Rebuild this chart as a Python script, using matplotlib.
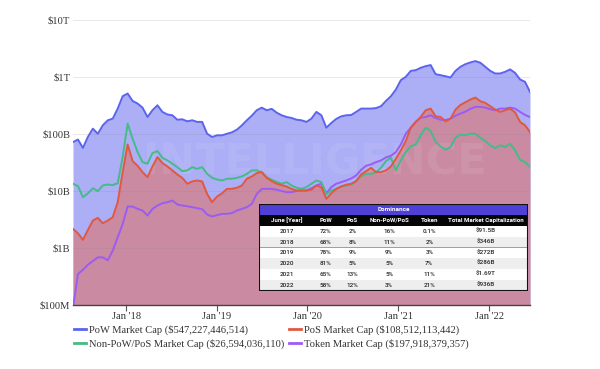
import matplotlib
matplotlib.use("Agg")
import matplotlib.pyplot as plt
from matplotlib.lines import Line2D
from matplotlib.patches import Rectangle
import pandas as pd
import numpy as np

# ---------------- data (values in billions of USD) ----------------
dates = pd.date_range("2017-06-01", periods=93, freq="20D")

pow_cap = [72, 80, 57, 89, 124, 101, 142, 174, 186, 279, 460, 513, 380, 342, 290, 199,
           261, 319, 244, 220, 213, 178, 181, 167, 174, 163, 163, 101, 88.6, 94.8, 94.8, 101,
           107, 119, 142, 174, 210, 261, 290, 261, 276, 237, 213, 199, 191, 178, 174, 163,
           186, 244, 213, 129, 156, 184, 204, 213, 215, 244, 279, 279, 279, 285, 307, 380,
           460, 603, 880, 1007, 1280, 1318, 1450, 1550, 1620, 1120, 1077, 1030, 980, 1280,
           1510, 1680, 1800, 1900, 1780, 1510, 1280, 1153, 1153, 1233, 1360, 1180, 905, 823,
           547.2]

pos_cap = [2.16, 1.81, 1.39, 2.07, 3.03, 3.37, 2.72, 3.03, 3.47, 6.36, 21.4, 65.5, 33.5,
           27.7, 21.4, 17.5, 27.0, 39.3, 31.0, 27.0, 23.0, 19.5, 17.0, 13.4, 14.7, 15.3, 14.7,
           8.91, 6.36, 8.0, 9.1, 10.9, 10.9, 11.4, 12.5, 16.4, 18.0, 20.6, 21.4, 17.0, 14.9,
           13.4, 12.7, 12.0, 10.9, 10.2, 10.2, 10.2, 10.5, 12.5, 11.7, 7.28, 9.1, 10.9, 12.0,
           12.9, 13.4, 14.9, 19.5, 22.3, 25.5, 21.4, 21.4, 23.0, 27.0, 36.8, 51.6, 75.3, 129,
           163, 199, 261, 279, 204, 199, 166, 186, 268, 323, 361, 402, 436, 376, 352, 307, 268,
           244, 261, 279, 240, 163, 142, 108.5]

other_cap = [13.4, 12.2, 7.78, 9.1, 11.2, 9.95, 12.5, 13.0, 12.7, 13.7, 39.3, 152, 82.8,
             48.2, 32.1, 30.1, 46.2, 50.2, 38.3, 34.4, 30.1, 26.2, 22.3, 23.0, 26.2, 24.5, 26.2,
             20.0, 17.0, 15.9, 15.3, 16.4, 16.4, 17.0, 18.0, 20.0, 23.0, 23.0, 21.4, 17.5, 15.7,
             14.5, 13.4, 14.3, 12.5, 11.4, 10.9, 11.7, 13.4, 15.3, 14.3, 8.7, 10.2, 10.9, 12.0,
             12.5, 12.9, 14.9, 18.2, 20.0, 20.0, 21.4, 25.5, 33.5, 38.3, 23.0, 34.4, 48.2, 60.6,
             65.5, 94.8, 129, 114, 72.3, 60.6, 53.0, 59.0, 86.0, 98, 94.8, 101, 101, 86.0, 75.3,
             63.2, 56.6, 63.2, 59.0, 67.6, 51.6, 35.3, 32.1, 26.6]

token_cap = [0.09, 0.349, 0.415, 0.51, 0.59, 0.685, 0.685, 0.61, 0.898, 1.54, 2.64, 5.34,
             5.34, 4.86, 4.54, 3.71, 4.86, 5.56, 6.1, 6.36, 6.80, 5.8, 5.56, 5.4, 5.20, 5.0, 4.8,
             3.87, 3.57, 3.77, 3.97, 3.97, 4.1, 4.54, 4.86, 5.20, 5.94, 8.91, 10.9, 10.9, 10.9,
             10.5, 10.0, 9.53, 9.53, 10.0, 10.2, 10.2, 11.2, 12.5, 13.4, 9.1, 11.7, 13.4, 14.3,
             15.3, 16.6, 18.7, 23.5, 27.7, 29.3, 32.1, 34.4, 38.8, 41.5, 48.2, 65.5, 101, 129,
             163, 193, 199, 213, 191, 178, 176, 186, 210, 228, 247, 276, 299, 299, 290, 272, 261,
             279, 279, 290, 279, 244, 216, 197.9]

series_labels = ["PoW Market Cap ($547,227,446,514)",
                 "PoS Market Cap ($108,512,113,442)",
                 "Non-PoW/PoS Market Cap ($26,594,036,110)",
                 "Token Market Cap ($197,918,379,357)"]

y_ticks = [1e8, 1e9, 1e10, 1e11, 1e12, 1e13]
y_tick_labels = ["$100M", "$1B", "$10B", "$100B", "$1T", "$10T"]
x_ticks = ["2018-01-01", "2019-01-01", "2020-01-01", "2021-01-01", "2022-01-01"]
x_tick_labels = ["Jan '18", "Jan '19", "Jan '20", "Jan '21", "Jan '22"]

table_header = ["June [Year]", "PoW", "PoS", "Non-PoW/PoS", "Token", "Total Market Capitalization"]
table_years = ["2017", "2018", "2019", "2020", "2021", "2022"]
table_pow = ["72%", "68%", "78%", "81%", "65%", "58%"]
table_pos = ["2%", "8%", "9%", "5%", "13%", "12%"]
table_other = ["16%", "11%", "9%", "5%", "5%", "3%"]
table_token = ["0.1%", "2%", "3%", "7%", "11%", "21%"]
table_total = ["$91.5B", "$346B", "$272B", "$286B", "$1.69T", "$936B"]

# ---------------- styling ----------------
C_POW = "#5c63ee"
C_POS = "#e2583e"
C_OTHER = "#45bb88"
C_TOKEN = "#9b5cf4"
F_POW = "#acaef6"
F_POS = "#c98aa2"
FS = 7.6

W, H = 600, 369
fig = plt.figure(figsize=(W / 100, H / 100), dpi=100)
ax = fig.add_axes([73 / W, 1 - 305 / H, (530 - 73) / W, (305 - 20) / H])

scale = 1e9
pw = np.array(pow_cap) * scale
ps = np.array(pos_cap) * scale
ot = np.array(other_cap) * scale
tk = np.array(token_cap) * scale

ax.set_yscale("log")
ax.set_ylim(1e8, 1e13)
ax.set_xlim(dates[0], dates[-1])

ax.fill_between(dates, 1e6, pw, color=F_POW, lw=0, zorder=1)
ax.fill_between(dates, 1e6, ps, color=F_POS, lw=0, zorder=1.1)

# watermark
ax.text(0.53, 0.5, "INTELLIGENCE", transform=ax.transAxes, ha="center", va="center",
        fontsize=31, fontweight="bold", family="DejaVu Sans", color="white", alpha=0.08,
        zorder=1.3)

ax.plot(dates, tk, color=C_TOKEN, lw=1.4, zorder=2)
ax.plot(dates, ot, color=C_OTHER, lw=1.4, zorder=2.1)
ax.plot(dates, ps, color=C_POS, lw=1.4, zorder=2.2)
ax.plot(dates, pw, color=C_POW, lw=1.4, zorder=2.3)

ax.set_yticks(y_ticks)
ax.set_yticklabels(y_tick_labels)
ax.yaxis.set_minor_locator(matplotlib.ticker.NullLocator())
ax.set_xticks([pd.Timestamp(d) for d in x_ticks])
ax.set_xticklabels(x_tick_labels)

for lab in ax.get_yticklabels() + ax.get_xticklabels():
    lab.set_family("Liberation Serif")
    lab.set_fontsize(FS)
    lab.set_color("#333333")

ax.tick_params(axis="y", length=0, pad=2)
ax.tick_params(axis="x", length=4, width=0.8, color="#555555", pad=1)
ax.grid(axis="y", color="#888888", alpha=0.22, lw=0.6)
ax.set_axisbelow("line")
for s in ["top", "right", "left"]:
    ax.spines[s].set_visible(False)
ax.spines["bottom"].set_color("#444444")
ax.spines["bottom"].set_linewidth(1.0)
ax.spines["bottom"].set_zorder(3)

# ---------------- legend ----------------
handles = [Line2D([], [], color=C_POW, lw=2),
           Line2D([], [], color=C_OTHER, lw=2),
           Line2D([], [], color=C_POS, lw=2),
           Line2D([], [], color=C_TOKEN, lw=2)]
labels = [series_labels[0], series_labels[2], series_labels[1], series_labels[3]]
fig.legend(handles, labels, ncol=2, loc="upper left",
           bbox_to_anchor=(74 / W, 1 - 325 / H), frameon=False,
           prop={"family": "Liberation Serif", "size": FS},
           handlelength=1.15, handletextpad=0.25, columnspacing=0.45,
           labelspacing=0.35, borderaxespad=0, borderpad=0, labelcolor="#333333")

# ---------------- table ----------------
tx0, tx1, ty0, ty1 = 259, 528, 204, 291
tax = fig.add_axes([tx0 / W, 1 - ty1 / H, (tx1 - tx0) / W, (ty1 - ty0) / H])
tax.set_xlim(0, 1)
tax.set_ylim(0, 8)
tax.axis("off")
tax.set_zorder(5)

tax.add_patch(Rectangle((0, 7), 1, 1, color="#5140d6", lw=0))
tax.add_patch(Rectangle((0, 6), 1, 1, color="#050505", lw=0))
for i in range(6):
    tax.add_patch(Rectangle((0, 5 - i), 1, 1, color="white" if i % 2 == 0 else "#eeeeef", lw=0))
tax.add_patch(Rectangle((0, 0), 1, 8, fill=False, ec="#111111", lw=1.5))

tfont = "Roboto"
tax.text(0.5, 7.5, "Dominance", ha="center", va="center", color="white",
         fontsize=4.6, fontweight="bold", family=tfont)
col_x = [0.103, 0.248, 0.347, 0.484, 0.633, 0.844]
for cx, h in zip(col_x, table_header):
    tax.text(cx, 6.5, h, ha="center", va="center", color="white",
             fontsize=4.4, fontweight="bold", family=tfont)
cols = [table_years, table_pow, table_pos, table_other, table_token, table_total]
for i in range(6):
    for cx, col in zip(col_x, cols):
        tax.text(cx, 5.5 - i, col[i], ha="center", va="center", color="#222222",
                 fontsize=4.5, fontweight="medium", family=tfont)

fig.savefig("out.png", dpi=100)
